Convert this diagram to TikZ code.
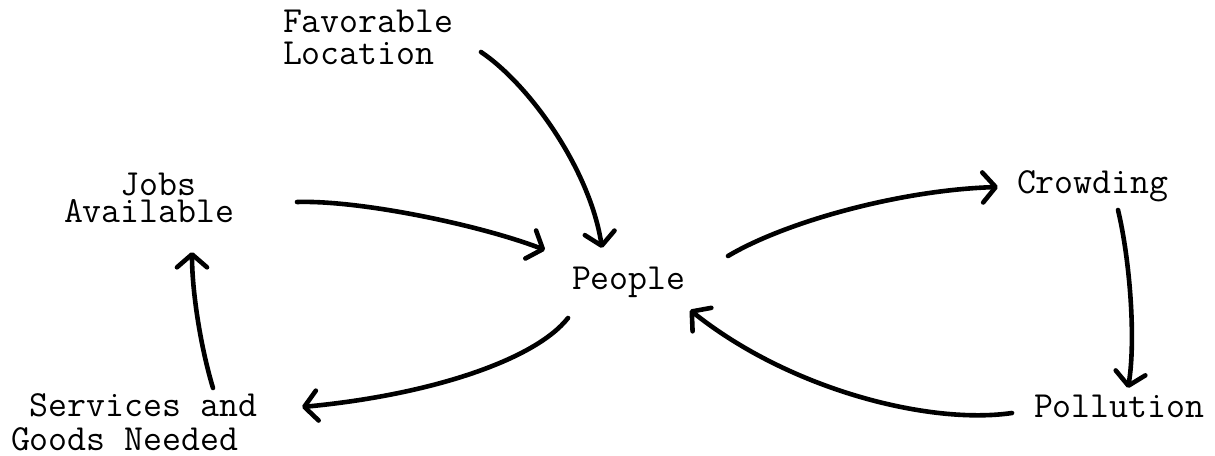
\documentclass[tikz,border=0pt]{standalone}
\usepackage{fontspec}
\usetikzlibrary{arrows.meta}
\begin{document}
\begin{tikzpicture}[x=0.5pt,y=-0.5pt,
  lbl/.style={inner sep=0pt, outer sep=0pt, anchor=north west, align=left,
    font=\ttfamily\addfontfeatures{FakeBold=1.2}\fontsize{18.4}{16}\selectfont},
  arr/.style={line width=2.3pt, line cap=round, line join=round,
    -{Straight Barb[length=6.5pt,width=15pt,round]}}]
\useasboundingbox (0,0) rectangle (1215,455);
% labels
\node[lbl] (fav) at (283,10.5) {Favorable\\Location};
\node[lbl, font=\ttfamily\addfontfeatures{FakeBold=1.2}\fontsize{18.4}{13.2}\selectfont] (jobs) at (64,173.5) {\hphantom{xxx}Jobs\\Available};
\node[lbl] (people) at (572,267.5) {People};
\node[lbl] (crowd) at (1017,170.5) {Crowding};
\node[lbl] (poll) at (1034,395.5) {Pollution};
\node[lbl, font=\ttfamily\addfontfeatures{FakeBold=1.2}\fontsize{18.4}{17}\selectfont] (serv) at (11,393.5) {\hphantom{x}Services and\\Goods Needed};
% connectors
\draw[arr] ([shift={(198,41.5)}]fav.north west) .. controls (530,85) and (590,170) .. ([shift={(30,-19.5)}]people.north west);
\draw[arr] ([shift={(233,28.5)}]jobs.north west) .. controls (360,200) and (480,225) .. ([shift={(-27,-17.5)}]people.north west);
\draw[arr] ([shift={(156,-11.5)}]people.north west) .. controls (785,222) and (900,190) .. ([shift={(-19,16.5)}]crowd.north west);
\draw[arr] ([shift={(101,39.5)}]crowd.north west) .. controls (1130,260) and (1136,340) .. ([shift={(94,-7.5)}]poll.north west);
\draw[arr] ([shift={(-22,17.5)}]poll.north west) .. controls (930,425) and (790,390) .. ([shift={(118,42.5)}]people.north west);
\draw[arr] ([shift={(-4,50.5)}]people.north west) .. controls (535,360) and (430,395) .. ([shift={(291,13.5)}]serv.north west);
\draw[arr] ([shift={(202,-5.5)}]serv.north west) .. controls (200,345) and (192,290) .. ([shift={(128,78.5)}]jobs.north west);
\end{tikzpicture}
\end{document}
